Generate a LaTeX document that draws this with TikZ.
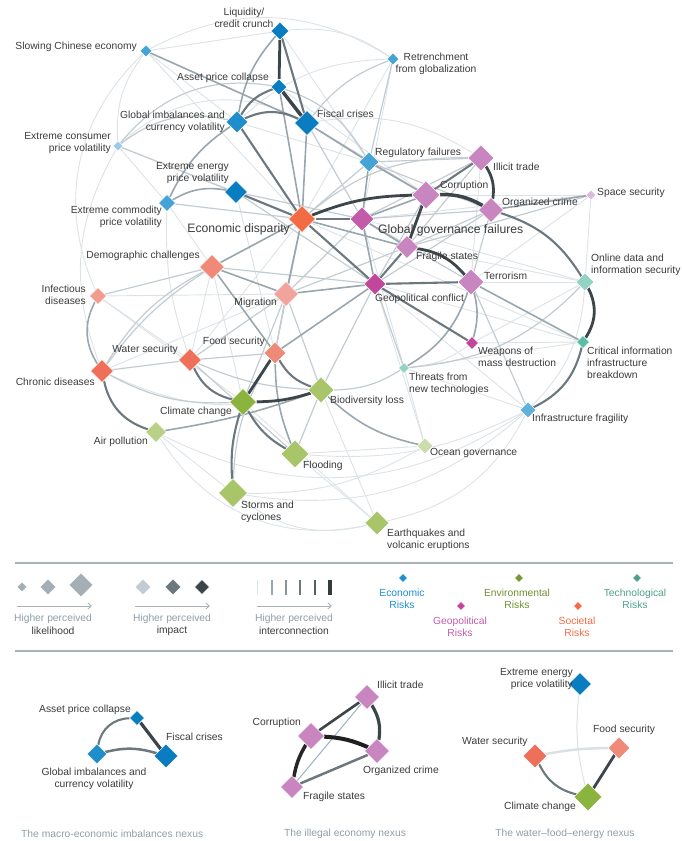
\documentclass[tikz,border=0pt]{standalone}
\usepackage{fontspec, tikz}
\setmainfont{Liberation Sans}
\usetikzlibrary{shapes.geometric, arrows.meta, backgrounds}
\definecolor{txt}{HTML}{3B3B3B}
\definecolor{capt}{HTML}{8F9EA8}
\definecolor{ecoA}{HTML}{0A7DC0}
\definecolor{ecoB}{HTML}{1E8FCA}
\definecolor{ecoC}{HTML}{45A3D5}
\definecolor{ecoD}{HTML}{9DCBE5}
\definecolor{geoA}{HTML}{C985BF}
\definecolor{geoB}{HTML}{C2479C}
\definecolor{geoC}{HTML}{C25CA8}
\definecolor{geoD}{HTML}{DDBADA}
\definecolor{socA}{HTML}{F26B45}
\definecolor{socB}{HTML}{EE705A}
\definecolor{socC}{HTML}{EF8A78}
\definecolor{socD}{HTML}{F2A49C}
\definecolor{envA}{HTML}{8BB43E}
\definecolor{envB}{HTML}{A8C669}
\definecolor{envC}{HTML}{B8D187}
\definecolor{envD}{HTML}{CBDDAD}
\definecolor{tecA}{HTML}{5BBEA5}
\definecolor{tecB}{HTML}{93D3C4}
\definecolor{gr1}{HTML}{DCE2E6}
\definecolor{gr2}{HTML}{C3CCD2}
\definecolor{gr3}{HTML}{9AA6AD}
\definecolor{gr4}{HTML}{6C787E}
\definecolor{gr5}{HTML}{3C454A}
\definecolor{sep}{HTML}{AAB2B7}
\tikzset{
    rk/.style = {shape = diamond, inner sep = 0pt, draw = white, line width = 0.5pt},
    lbl/.style = {inner sep = 0pt, text = txt, font = \fontsize{10.3}{12}\selectfont},
    biglbl/.style = {lbl, font = \fontsize{12.2}{14}\selectfont},
    cpt/.style = {lbl, text = capt},
    e1/.style = {draw = gr1, line width = 0.9pt},
    e2/.style = {draw = gr2, line width = 1.2pt},
    e3/.style = {draw = gr3, line width = 1.6pt},
    e4/.style = {draw = gr4, line width = 2.1pt},
    e5/.style = {draw = gr5, line width = 2.8pt},
    lgarrow/.style = {draw = sep, line width = 0.9pt, -{Straight Barb[length = 3.5pt, width = 6pt]}}
}

\begin{document}
\begin{tikzpicture}[x = 1pt, y = -1pt]
    \useasboundingbox (0,0) rectangle (681,841);

    % economic
    \node[rk, minimum size = 18, fill = ecoA] (liq) at (280,31) {};
    \node[rk, minimum size = 12, fill = ecoC] (slow) at (146,51) {};
    \node[rk, minimum size = 12, fill = ecoC] (retr) at (393,59) {};
    \node[rk, minimum size = 16, fill = ecoA] (asset) at (279,87) {};
    \node[rk, minimum size = 22, fill = ecoB] (glob) at (237,122) {};
    \node[rk, minimum size = 25, fill = ecoA] (fisc) at (307,123) {};
    \node[rk, minimum size = 10, fill = ecoD] (cons) at (118,146) {};
    \node[rk, minimum size = 23, fill = ecoA] (energy) at (236,192) {};
    \node[rk, minimum size = 17, fill = ecoC] (comm) at (167,203) {};
    \node[rk, minimum size = 20, fill = ecoC] (reg) at (369,162) {};
    \node[rk, minimum size = 16, fill = ecoC!85!white] (infra) at (528,410) {};
    % geopolitical
    \node[rk, minimum size = 26, fill = geoA] (illicit) at (481,158) {};
    \node[rk, minimum size = 28, fill = geoA] (corr) at (426,195) {};
    \node[rk, minimum size = 25, fill = geoA] (orgc) at (491,210) {};
    \node[rk, minimum size = 10, fill = geoD] (space) at (591,195) {};
    \node[rk, minimum size = 24, fill = geoC] (ggf) at (362,219) {};
    \node[rk, minimum size = 23, fill = geoA] (frag) at (407,247) {};
    \node[rk, minimum size = 26, fill = geoA] (terr) at (471,282) {};
    \node[rk, minimum size = 22, fill = geoB] (geoc) at (375,284) {};
    \node[rk, minimum size = 13, fill = geoB] (wmd) at (472,343) {};
    % societal
    \node[rk, minimum size = 27, fill = socA] (ecod) at (302,219) {};
    \node[rk, minimum size = 25, fill = socC] (demo) at (212,267) {};
    \node[rk, minimum size = 17, fill = socC!85!white] (infect) at (98,296) {};
    \node[rk, minimum size = 25, fill = socD] (migr) at (286,294) {};
    \node[rk, minimum size = 22, fill = socC] (food) at (275,353) {};
    \node[rk, minimum size = 23, fill = socB] (water) at (190,360) {};
    \node[rk, minimum size = 23, fill = socB] (chron) at (102,371) {};
    % environmental
    \node[rk, minimum size = 27, fill = envA] (clim) at (243,402) {};
    \node[rk, minimum size = 26, fill = envB] (biod) at (321,390) {};
    \node[rk, minimum size = 21, fill = envC] (airp) at (156,432) {};
    \node[rk, minimum size = 28, fill = envB] (flood) at (295,454) {};
    \node[rk, minimum size = 29, fill = envB] (storm) at (233,493) {};
    \node[rk, minimum size = 16, fill = envD] (ocean) at (425,446) {};
    \node[rk, minimum size = 24, fill = envB] (quake) at (377,523) {};
    % technological
    \node[rk, minimum size = 18, fill = tecB] (online) at (585,282) {};
    \node[rk, minimum size = 13, fill = tecA] (crit) at (583,342) {};
    \node[rk, minimum size = 11, fill = tecB] (threat) at (404,368) {};

    \node[lbl, align = center] (liq-t) at (244,18) {Liquidity/\\credit crunch};
    \node[lbl, anchor = east] (slow-t) at (137,47) {Slowing Chinese economy};
    \node[lbl, align = center] (retr-t) at (436,64) {Retrenchment\\from globalization};
    \node[lbl, anchor = east] (asset-t) at (269,78) {Asset price collapse};
    \node[lbl, anchor = east, align = right] (glob-t) at (225,122) {Global imbalances and\\currency volatility};
    \node[lbl, anchor = west] (fisc-t) at (317,114) {Fiscal crises};
    \node[lbl, anchor = east, align = right] (cons-t) at (111,143) {Extreme consumer\\price volatility};
    \node[lbl, anchor = east, align = right] (energy-t) at (229,173) {Extreme energy\\price volatility};
    \node[lbl, anchor = east, align = right] (comm-t) at (162,217) {Extreme commodity\\price volatility};
    \node[lbl, anchor = west] (reg-t) at (375,153) {Regulatory failures};
    \node[lbl, anchor = west] (infra-t) at (532,419) {Infrastructure fragility};
    \node[lbl, anchor = west] (illicit-t) at (493,167) {Illicit trade};
    \node[lbl, anchor = west] (corr-t) at (440,186) {Corruption};
    \node[lbl, anchor = west] (orgc-t) at (502,203) {Organized crime};
    \node[lbl, anchor = west] (space-t) at (597,193) {Space security};
    \node[biglbl, anchor = west] (ggf-t) at (378,230) {Global governance failures};
    \node[lbl, anchor = west] (frag-t) at (416,257) {Fragile states};
    \node[lbl, anchor = west] (terr-t) at (484,276) {Terrorism};
    \node[lbl, anchor = west] (geoc-t) at (375,299) {Geopolitical conflict};
    \node[lbl, anchor = west, align = left] (wmd-t) at (478,357) {Weapons of\\mass destruction};
    \node[biglbl, anchor = east] (ecod-t) at (290,229) {Economic disparity};
    \node[lbl, anchor = east] (demo-t) at (200,256) {Demographic challenges};
    \node[lbl, anchor = east, align = right] (infect-t) at (86,295) {Infectious\\diseases};
    \node[lbl, anchor = east] (migr-t) at (277,303) {Migration};
    \node[lbl, anchor = east] (food-t) at (265,342) {Food security};
    \node[lbl, anchor = east] (water-t) at (178,350) {Water security};
    \node[lbl, anchor = east] (chron-t) at (95,382) {Chronic diseases};
    \node[lbl, anchor = east] (clim-t) at (232,412) {Climate change};
    \node[lbl, anchor = west] (biod-t) at (330,401) {Biodiversity loss};
    \node[lbl, anchor = east] (airp-t) at (148,442) {Air pollution};
    \node[lbl, anchor = west] (flood-t) at (303,466) {Flooding};
    \node[lbl, anchor = west, align = left] (storm-t) at (241,512) {Storms and\\cyclones};
    \node[lbl, anchor = west] (ocean-t) at (430,453) {Ocean governance};
    \node[lbl, anchor = west, align = left] (quake-t) at (387,540) {Earthquakes and\\volcanic eruptions};
    \node[lbl, anchor = west, align = left] (online-t) at (591,265) {Online data and\\information security};
    \node[lbl, anchor = west, align = left] (crit-t) at (587,363) {Critical information\\infrastructure\\breakdown};
    \node[lbl, anchor = west, align = left] (threat-t) at (409,384) {Threats from\\new technologies};

    \begin{scope}[on background layer]
        \draw[e1] (slow) to[bend left = 30] (retr);
        \draw[e1] (liq) to[bend left = 20] (retr);
        \draw[e1] (slow) to[bend right = 20] (cons);
        \draw[e1] (slow) -- (glob);
        \draw[e1] (slow) -- (liq);
        \draw[e1] (slow) -- (ecod);
        \draw[e1] (infect) to[bend left = 35] (slow);
        \draw[e1] (cons) -- (comm);
        \draw[e1] (cons) -- (energy);
        \draw[e1] (cons) to[bend right = 25] (chron);
        \draw[e1] (cons) to[bend left = 35] (fisc);
        \draw[e1] (liq) -- (reg);
        \draw[e1] (retr) -- (ecod);
        \draw[e1] (retr) -- (ggf);
        \draw[e1] (retr) to[bend right = 20] (glob);
        \draw[e1] (asset) -- (corr);
        \draw[e1] (fisc) to[bend left = 20] (illicit);
        \draw[e1] (glob) -- (reg);
        \draw[e1] (energy) -- (food);
        \draw[e1] (comm) -- (demo);
        \draw[e1] (comm) to[bend right = 10] (water);
        \draw[e1] (illicit) -- (terr);
        \draw[e1] (space) -- (corr);
        \draw[e1] (space) -- (online);
        \draw[e1] (space) -- (ggf);
        \draw[e1] (space) -- (terr);
        \draw[e1] (frag) -- (online);
        \draw[e1] (terr) -- (online);
        \draw[e1] (online) -- (ggf);
        \draw[e1] (geoc) -- (crit);
        \draw[e1] (geoc) -- (ocean);
        \draw[e1] (wmd) -- (crit);
        \draw[e1] (wmd) to[bend left = 15] (threat);
        \draw[e1] (wmd) -- (online);
        \draw[e1] (threat) -- (crit);
        \draw[e1] (threat) -- (ocean);
        \draw[e1] (threat) -- (ggf);
        \draw[e1] (infra) to[bend left = 25] (storm);
        \draw[e1] (infra) to[bend left = 30] (airp);
        \draw[e1] (quake) to[bend right = 25] (infra);
        \draw[e1] (infra) to[bend left = 15] (flood);
        \draw[e1] (infra) to[bend right = 20] (online);
        \draw[e1] (infra) -- (geoc);
        \draw[e1] (infra) -- (threat);
        \draw[e1] (ocean) to[bend left = 15] (storm);
        \draw[e1] (ocean) -- (flood);
        \draw[e1] (storm) to[bend right = 25] (quake);
        \draw[e1] (airp) to[bend right = 35] (quake);
        \draw[e1] (quake) -- (flood);
        \draw[e1] (quake) -- (clim);
        \draw[e1] (quake) -- (biod);
        \draw[e1] (storm) -- (airp);
        \draw[e1] (migr) -- (chron);
        \draw[e1] (infect) -- (water);
        \draw[e1] (infect) -- (clim);
        \draw[e1] (infect) -- (migr);
        \draw[e1] (clim) -- (demo);
        \draw[e1] (chron) to[bend right = 20] (biod);
        \draw[e1] (water) -- (ecod);
        \draw[e1] (demo) -- (water);
        \draw[e1] (crit) -- (ecod);

        \draw[e2] (cons) to[bend left = 25] (glob);
        \draw[e2] (cons) to[bend left = 30] (asset);
        \draw[e2] (cons) -- (ecod);
        \draw[e2] (retr) -- (reg);
        \draw[e2] (retr) to[bend right = 15] (fisc);
        \draw[e2] (asset) to[bend left = 20] (reg);
        \draw[e2] (fisc) -- (corr);
        \draw[e2] (fisc) -- (ggf);
        \draw[e2] (energy) -- (ggf);
        \draw[e2] (energy) -- (geoc);
        \draw[e2] (comm) -- (ecod);
        \draw[e2] (reg) -- (illicit);
        \draw[e2] (reg) -- (orgc);
        \draw[e2] (reg) -- (ecod);
        \draw[e2] (illicit) -- (ggf);
        \draw[e2] (illicit) -- (frag);
        \draw[e2] (ecod) to[bend left = 20] (illicit);
        \draw[e2] (corr) -- (geoc);
        \draw[e2] (orgc) -- (ggf);
        \draw[e2] (orgc) -- (geoc);
        \draw[e2] (orgc) -- (terr);
        \draw[e2] (orgc) -- (frag);
        \draw[e2] (space) -- (frag);
        \draw[e2] (ggf) -- (terr);
        \draw[e2] (ggf) -- (migr);
        \draw[e2] (frag) -- (migr);
        \draw[e2] (terr) -- (infra);
        \draw[e2] (geoc) -- (demo);
        \draw[e2] (geoc) -- (threat);
        \draw[e2] (threat) to[bend right = 20] (online);
        \draw[e2] (threat) to[bend left = 15] (biod);
        \draw[e2] (storm) to[bend left = 15] (food);
        \draw[e2] (flood) -- (biod);
        \draw[e2] (flood) -- (water);
        \draw[e2] (biod) to[bend left = 10] (water);
        \draw[e2] (biod) -- (geoc);
        \draw[e2] (biod) -- (migr);
        \draw[e2] (clim) -- (migr);
        \draw[e2] (chron) to[bend right = 15] (clim);
        \draw[e2] (migr) -- (water);
        \draw[e2] (migr) -- (food);
        \draw[e2] (chron) -- (water);
        \draw[e2] (water) -- (food);
        \draw[e2] (chron) to[bend left = 15] (demo);
        \draw[e2] (chron) to[bend left = 10] (demo);
        \draw[e2] (demo) -- (infect);
        \draw[e2] (ecod) -- (food);

        \draw[e3] (liq) to[bend right = 15] (glob);
        \draw[e3] (slow) -- (fisc);
        \draw[e3] (energy) to[bend right = 20] (comm);
        \draw[e3] (comm) to[bend left = 15] (glob);
        \draw[e3] (fisc) -- (ecod);
        \draw[e3] (fisc) -- (reg);
        \draw[e3] (asset) -- (ecod);
        \draw[e3] (reg) -- (ggf);
        \draw[e3] (reg) -- (corr);
        \draw[e3] (corr) -- (ggf);
        \draw[e3] (ggf) -- (geoc);
        \draw[e3] (ggf) -- (frag);
        \draw[e3] (ecod) -- (frag);
        \draw[e3] (orgc) -- (space);
        \draw[e3] (terr) to[bend left = 15] (wmd);
        \draw[e3] (terr) -- (crit);
        \draw[e3] (threat) to[bend right = 20] (terr);
        \draw[e3] (demo) -- (ecod);
        \draw[e3] (demo) -- (migr);
        \draw[e3] (demo) -- (food);
        \draw[e3] (ecod) -- (migr);
        \draw[e3] (migr) -- (geoc);
        \draw[e3] (food) -- (geoc);
        \draw[e3] (chron) to[bend left = 30] (infect);
        \draw[e3] (airp) to[bend right = 5] (biod);
        \draw[e3] (biod) to[bend right = 15] (ocean);
        \draw[e3] (food) to[bend right = 10] (flood);

        \draw[e4] (liq) -- (fisc);
        \draw[e4] (asset) to[bend right = 20] (glob);
        \draw[e4] (glob) to[bend left = 25] (fisc);
        \draw[e4] (glob) -- (ecod);
        \draw[e4] (energy) -- (ecod);
        \draw[e4] (ecod) -- (ggf);
        \draw[e4] (ecod) -- (geoc);
        \draw[e4] (illicit) -- (corr);
        \draw[e4] (frag) -- (geoc);
        \draw[e4] (geoc) -- (terr);
        \draw[e4] (geoc) -- (wmd);
        \draw[e4] (orgc) to[bend left = 20] (online);
        \draw[e4] (crit) to[bend left = 25] (infra);
        \draw[e4] (food) to[bend right = 20] (biod);
        \draw[e4] (water) to[bend right = 25] (clim);
        \draw[e4] (clim) to[bend right = 15] (flood);
        \draw[e4] (clim) to[bend right = 10] (storm);
        \draw[e4] (chron) to[bend right = 30] (airp);

        \draw[e5] (liq) -- (asset);
        \draw[e5, line width = 3.5pt] (asset) -- (fisc);
        \draw[e5] (ecod) to[bend left = 10] (corr);
        \draw[e5, line width = 3.5pt] (corr) to[bend left = 15] (orgc);
        \draw[e5] (illicit) to[bend left = 20] (orgc);
        \draw[e5] (corr) -- (frag);
        \draw[e5] (frag) to[bend left = 20] (terr);
        \draw[e5] (online) to[bend left = 30] (crit);
        \draw[e5] (clim) to[bend right = 8] (biod);
        \draw[e5] (food) -- (clim);
    \end{scope}

    % legend
    \draw[sep, line width = 1.3pt] (15,563) -- (673,563);
    \draw[sep, line width = 1.3pt] (15,651) -- (673,651);
    \node[rk, minimum size = 10, fill = gr3!90!white] (lk-s) at (22,587) {};
    \node[rk, minimum size = 16, fill = gr3!90!white] (lk-m) at (48,587) {};
    \node[rk, minimum size = 24, fill = gr3!90!white] (lk-l) at (81,585) {};
    \draw[lgarrow] (17,606) -- (92,606);
    \node[cpt] (lk-t) at (53,619) {Higher perceived};
    \node[lbl] (lk-tt) at (53,631) {likelihood};
    \node[rk, minimum size = 16, fill = gr2] (im-s) at (143,587) {};
    \node[rk, minimum size = 16, fill = gr4] (im-m) at (173,587) {};
    \node[rk, minimum size = 15, fill = gr5] (im-l) at (202,587) {};
    \draw[lgarrow] (135,606) -- (210,606);
    \node[cpt] (im-t) at (172,619) {Higher perceived};
    \node[lbl] (im-tt) at (172,631) {impact};
    \draw[gr1, line width = 0.8pt] (257,580) -- (257,595);
    \draw[gr3, line width = 1.2pt] (272,580) -- (272,595);
    \draw[gr3!60!gr4, line width = 1.6pt] (286,580) -- (286,595);
    \draw[gr4, line width = 2.1pt] (300,580) -- (300,595);
    \draw[gr4!50!gr5, line width = 2.6pt] (315,580) -- (315,595);
    \draw[gr5!85!black, line width = 3.1pt] (330,580) -- (330,595);
    \draw[lgarrow] (257,606) -- (332,606);
    \node[cpt] (ic-t) at (294,619) {Higher perceived};
    \node[lbl] (ic-tt) at (294,631) {interconnection};
    \node[rk, minimum size = 9, fill = ecoB] (k-eco) at (403,578) {};
    \node[lbl, align = center, text = ecoB] (k-eco-t) at (402,599) {Economic\\Risks};
    \node[rk, minimum size = 9, fill = geoB] (k-geo) at (461,606) {};
    \node[lbl, align = center, text = geoC] (k-geo-t) at (460,627) {Geopolitical\\Risks};
    \node[rk, minimum size = 9, fill = envA!85!black] (k-env) at (519,578) {};
    \node[lbl, align = center, text = envA!80!black] (k-env-t) at (517,599) {Environmental\\Risks};
    \node[rk, minimum size = 9, fill = socA] (k-soc) at (578,606) {};
    \node[lbl, align = center, text = socA] (k-soc-t) at (577,627) {Societal\\Risks};
    \node[rk, minimum size = 9, fill = tecA!85!black] (k-tec) at (637,578) {};
    \node[lbl, align = center, text = tecA!85!black] (k-tec-t) at (635,599) {Technological\\Risks};

    % nexuses
    \node[rk, minimum size = 15, fill = ecoA] (ma-asset) at (137,718) {};
    \node[rk, minimum size = 24, fill = ecoA] (ma-fisc) at (166,756) {};
    \node[rk, minimum size = 20, fill = ecoB] (ma-glob) at (97,754) {};
    \node[lbl, anchor = east] (ma-asset-t) at (131,710) {Asset price collapse};
    \node[lbl, anchor = west] (ma-fisc-t) at (166,737) {Fiscal crises};
    \node[lbl, align = center] (ma-glob-t) at (94,779) {Global imbalances and\\currency volatility};
    \begin{scope}[on background layer]
        \draw[e4] (ma-glob) to[bend left = 40] (ma-asset);
        \draw[e5, line width = 3.2pt] (ma-asset) -- (ma-fisc);
        \draw[e4, line width = 2.5pt] (ma-glob) to[bend left = 15] (ma-fisc);
    \end{scope}
    \node[cpt, anchor = west] (ma-cap) at (21,834) {The macro-economic imbalances nexus};

    \node[rk, minimum size = 25, fill = geoA] (il-illicit) at (367,697) {};
    \node[rk, minimum size = 27, fill = geoA] (il-corr) at (311,736) {};
    \node[rk, minimum size = 25, fill = geoA] (il-orgc) at (377,751) {};
    \node[rk, minimum size = 23, fill = geoA] (il-frag) at (292,787) {};
    \node[lbl, anchor = west] (il-illicit-t) at (377,685) {Illicit trade};
    \node[lbl, anchor = east] (il-corr-t) at (301,723) {Corruption};
    \node[lbl, anchor = west] (il-orgc-t) at (363,771) {Organized crime};
    \node[lbl, anchor = west] (il-frag-t) at (303,797) {Fragile states};
    \begin{scope}[on background layer]
        \draw[gr3!70!ecoD, line width = 1pt] (il-frag) -- (il-illicit);
        \draw[e4, line width = 2.5pt] (il-frag) -- (il-orgc);
        \draw[e5, line width = 2.6pt] (il-corr) -- (il-illicit);
        \draw[e5, line width = 3.2pt] (il-illicit) to[bend left = 20] (il-orgc);
        \draw[black!88, line width = 4pt] (il-corr) to[bend left = 10] (il-orgc);
        \draw[black!85, line width = 3.5pt] (il-corr) to[bend right = 10] (il-frag);
    \end{scope}
    \node[cpt] (il-cap) at (345,834) {The illegal economy nexus};

    \node[rk, minimum size = 23, fill = ecoA] (wf-energy) at (580,684) {};
    \node[rk, minimum size = 22, fill = socC] (wf-food) at (619,748) {};
    \node[rk, minimum size = 24, fill = socB] (wf-water) at (535,756) {};
    \node[rk, minimum size = 28, fill = envA] (wf-clim) at (588,797) {};
    \node[lbl, anchor = east, align = right] (wf-energy-t) at (573,679) {Extreme energy\\price volatility};
    \node[lbl, anchor = west] (wf-food-t) at (593,730) {Food security};
    \node[lbl, anchor = west] (wf-water-t) at (462,742) {Water security};
    \node[lbl, anchor = west] (wf-clim-t) at (504,807) {Climate change};
    \begin{scope}[on background layer]
        \draw[gr1, line width = 1pt] (wf-energy) to[bend right = 10] (wf-clim);
        \draw[gr1!90!gr2, line width = 2.5pt] (wf-water) to[bend left = 5] (wf-food);
        \draw[e4] (wf-water) to[bend right = 25] (wf-clim);
        \draw[e5] (wf-food) -- (wf-clim);
    \end{scope}
    \node[cpt] (wf-cap) at (565,834) {The water–food–energy nexus};
\end{tikzpicture}
\end{document}
